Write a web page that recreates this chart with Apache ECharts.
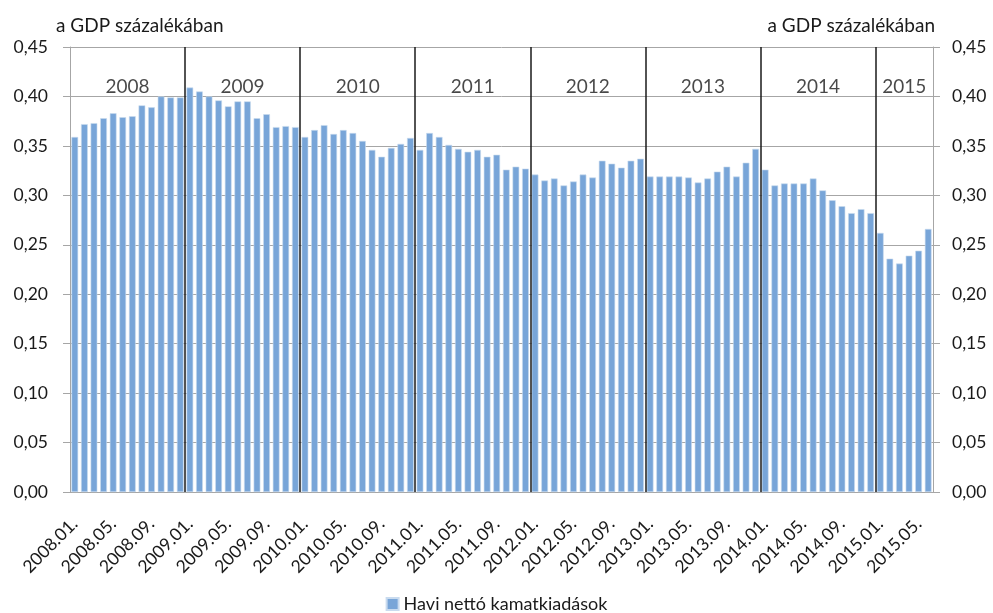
<!DOCTYPE html>
<html>
<head>
<meta charset="utf-8">
<script src="https://cdn.jsdelivr.net/npm/echarts@6/dist/echarts.min.js"></script>
<style>
html,body{margin:0;padding:0;background:#fff;}
#chart{width:993px;height:613px;}
</style>
</head>
<body>
<div id="chart"></div>
<script>
var years = ['2008','2009','2010','2011','2012','2013','2014','2015'];
var monthsPerYear = [12,12,12,12,12,12,12,6];
var values2008 = [0.359,0.372,0.373,0.378,0.383,0.379,0.380,0.391,0.389,0.400,0.399,0.399];
var values2009 = [0.409,0.405,0.400,0.396,0.390,0.395,0.395,0.378,0.382,0.369,0.370,0.369];
var values2010 = [0.359,0.366,0.371,0.362,0.366,0.363,0.355,0.346,0.339,0.348,0.352,0.358];
var values2011 = [0.346,0.363,0.359,0.351,0.347,0.344,0.346,0.339,0.341,0.326,0.329,0.327];
var values2012 = [0.321,0.315,0.317,0.310,0.314,0.321,0.318,0.335,0.332,0.328,0.335,0.337];
var values2013 = [0.319,0.319,0.319,0.319,0.318,0.313,0.317,0.324,0.329,0.319,0.333,0.347];
var values2014 = [0.326,0.310,0.312,0.312,0.312,0.317,0.305,0.295,0.289,0.282,0.286,0.282];
var values2015 = [0.262,0.236,0.231,0.239,0.244,0.266];
var seriesName = 'Havi nettó kamatkiadások';
var axisTitle = 'a GDP százalékában';
var yearLabelLevel = 0.410;

var values = [].concat(values2008,values2009,values2010,values2011,values2012,values2013,values2014,values2015);
var categories = [];
var yearStarts = [];
var yearMids = [];
var idx = 0;
years.forEach(function(y,i){
  yearStarts.push(idx);
  yearMids.push([idx + monthsPerYear[i]/2, yearLabelLevel, y]);
  for (var m=1;m<=monthsPerYear[i];m++){
    categories.push(y + '.' + (m<10?'0':'') + m + '.');
  }
  idx += monthsPerYear[i];
});
var totalMonths = idx;
var dividers = yearStarts.slice(1).map(function(s){ return {xAxis:s}; });

var font = 'Lato, "Open Sans", sans-serif';
var txt = '#1a1a1a';
var gridCol = '#a6a6a6';
function fmt(v){ return v.toFixed(2).replace('.',','); }

var chart = echarts.init(document.getElementById('chart'));
chart.setOption({
  animation:false,
  textStyle:{fontFamily:font},
  title:[
    {text:axisTitle,left:51,top:11,textStyle:{fontFamily:font,fontSize:19,fontWeight:'normal',color:txt}},
    {text:axisTitle,right:53,top:11,textStyle:{fontFamily:font,fontSize:19,fontWeight:'normal',color:txt}}
  ],
  grid:{left:70,right:60,top:47,bottom:121},
  legend:{
    top:590,left:'center',icon:'rect',itemWidth:12,itemHeight:12,itemGap:10,
    textStyle:{fontFamily:font,fontSize:18,color:txt},
    data:[seriesName]
  },
  xAxis:[
    {
      type:'category',data:categories,boundaryGap:true,
      axisLine:{lineStyle:{color:gridCol}},
      axisTick:{interval:3,length:6,lineStyle:{color:gridCol}},
      axisLabel:{interval:3,rotate:45,margin:29,fontSize:17.5,color:txt,fontFamily:font},
      splitLine:{show:false}
    },
    {
      type:'value',min:0,max:totalMonths,show:false
    }
  ],
  yAxis:[
    {
      type:'value',min:0,max:0.45,interval:0.05,position:'left',
      axisLine:{show:true,lineStyle:{color:gridCol}},
      axisTick:{show:true,length:7,lineStyle:{color:gridCol}},
      axisLabel:{formatter:fmt,fontSize:17.5,color:txt,margin:22,fontFamily:font},
      splitLine:{lineStyle:{color:gridCol,width:1}}
    },
    {
      type:'value',min:0,max:0.45,interval:0.05,position:'right',
      axisLine:{show:true,lineStyle:{color:gridCol}},
      axisTick:{show:true,length:7,lineStyle:{color:gridCol}},
      axisLabel:{formatter:fmt,fontSize:17.5,color:txt,margin:19,fontFamily:font},
      splitLine:{show:false}
    }
  ],
  series:[
    {
      name:seriesName,type:'bar',data:values,xAxisIndex:0,yAxisIndex:0,
      barCategoryGap:'30%',
      itemStyle:{color:'#78a5d8',borderColor:'#c9dbef',borderWidth:0.6},
      z:2
    },
    {
      name:'years',type:'scatter',xAxisIndex:1,yAxisIndex:0,
      data:yearMids,symbolSize:0,silent:true,
      label:{show:true,position:'inside',formatter:function(p){return p.data[2];},
        fontSize:19,color:txt,fontFamily:font},
      markLine:{
        silent:true,symbol:'none',
        label:{show:false},
        lineStyle:{color:'#1a1a1a',width:1.5,type:'solid'},
        data:dividers
      },
      z:5
    }
  ]
});
</script>
</body>
</html>
